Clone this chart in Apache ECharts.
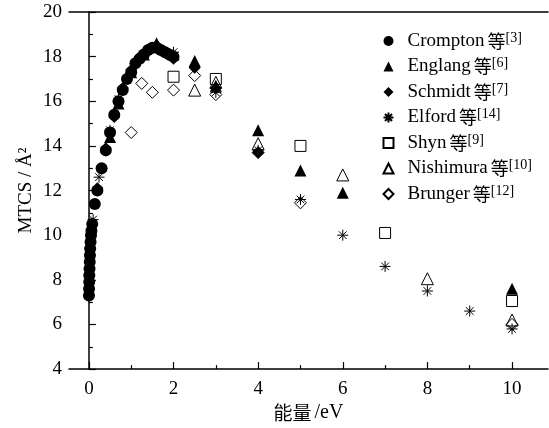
<!DOCTYPE html>
<html><head><meta charset="utf-8">
<script src="https://cdn.jsdelivr.net/npm/echarts@6/dist/echarts.min.js"></script>
<style>html,body{margin:0;padding:0;background:#fff}#c{width:549px;height:428px}</style>
</head><body><div id="c"></div>
<script>
const seriesNames = ['Crompton','Englang','Schmidt','Elford','Shyn','Nishimura','Brunger'];
const refs = ['3','6','7','14','9','10','12'];
const xMajorTicks = [0,2,4,6,8,10];
const xMinorTicks = [1,3,5,7,9];

const crompton = [[0.002,7.3],[0.005,7.6],[0.008,7.9],[0.01,8.2],[0.015,8.5],[0.02,8.8],[0.025,9.1],[0.03,9.4],[0.04,9.7],[0.05,10.0],[0.06,10.2],[0.08,10.5],[0.14,11.4],[0.2,12.0],[0.3,13.0],[0.4,13.8],[0.5,14.6],[0.6,15.4],[0.7,16.0],[0.8,16.5],[0.9,17.0],[1.0,17.3],[1.1,17.7],[1.2,17.9],[1.3,18.1],[1.4,18.3],[1.5,18.4],[1.6,18.4],[1.7,18.3],[1.8,18.2],[1.9,18.1],[2.0,18.0]];
const englang = [[0.5,14.4],[0.7,15.9],[1.0,17.3],[1.3,18.1],[1.6,18.6],[2.0,18.1],[2.5,17.8],[3.0,16.7],[4.0,14.7],[5.0,12.9],[6.0,11.9],[10.0,7.6]];
const schmidt = [[0.2,12.1],[0.4,13.9],[0.6,15.3],[0.8,16.6],[1.0,17.4],[1.2,18.0],[1.4,18.3],[1.6,18.5],[1.8,18.2],[2.0,17.9],[2.5,17.5],[3.0,16.6],[4.0,13.7]];
const elford = [[0.1,10.7],[0.24,12.6],[0.5,14.7],[0.7,16.1],[1.0,17.3],[1.5,18.4],[2.0,18.2],[3.0,16.4],[4.0,13.8],[5.0,11.6],[6.0,10.0],[7.0,8.6],[8.0,7.5],[9.0,6.6],[10.0,5.8]];
const shyn = [[2.0,17.1],[3.0,17.0],[5.0,14.0],[7.0,10.1],[10.0,7.05]];
const nishimura = [[2.5,16.5],[3.0,16.85],[4.0,14.1],[6.0,12.7],[8.0,8.05],[10.0,6.2]];
const brunger = [[1.0,14.6],[1.25,16.8],[1.5,16.4],[2.0,16.5],[2.5,17.15],[3.0,16.3],[4.0,13.7],[5.0,11.45],[10.0,6.0]];

const serif = "'Liberation Serif','Times New Roman',serif";
const cjk = "'Noto Sans CJK SC',sans-serif";
const asterisk = 'path://M5,0L5,10M0,5L10,5M1.5,1.5L8.5,8.5M1.5,8.5L8.5,1.5';

const datasets = [crompton, englang, schmidt, elford, shyn, nishimura, brunger];
const symbols = ['circle','triangle','diamond',asterisk,'rect','triangle','diamond'];
const sizes = [12,12,12,11,11,12,12];
const filled = [true,true,true,false,false,false,false];

const chart = echarts.init(document.getElementById('c'), null, {renderer:'canvas'});
const series = seriesNames.map((n,i)=>({
  name:n, type:'scatter', xAxisIndex:0, yAxisIndex:0,
  data:datasets[i], symbol:symbols[i], symbolSize:sizes[i],
  itemStyle: filled[i] ? {color:'#000', borderColor:'#000', borderWidth:0, opacity:1}
                       : {color:'none', borderColor:'#000', borderWidth:1, opacity:1},
  emphasis:{disabled:true}
}));

chart.setOption({
  animation:false,
  backgroundColor:'#fff',
  grid:{left:69, right:1, top:12, bottom:57},
  legend:{
    orient:'vertical', left:376, top:26, itemWidth:10, itemHeight:10, itemGap:6,
    data:seriesNames,
    formatter: name => {
      const i = seriesNames.indexOf(name);
      return '{a|' + name + '}{b|等}{s|[' + refs[i] + ']}';
    },
    textStyle:{
      color:'#000',
      rich:{
        a:{fontFamily:serif, fontSize:19, lineHeight:20, color:'#000', padding:[0,3,0,9]},
        b:{fontFamily:cjk, fontSize:18, lineHeight:20, color:'#000'},
        s:{fontFamily:serif, fontSize:14, lineHeight:12, color:'#000', verticalAlign:'top'}
      }
    }
  },
  xAxis:[{
    type:'value', min:-0.47, max:10.85, position:'bottom',
    name:'{c|能量}{d|/eV}', nameLocation:'middle', nameGap:29,
    nameTextStyle:{rich:{c:{fontFamily:cjk, fontSize:19, color:'#000'}, d:{fontFamily:serif, fontSize:20, color:'#000', padding:[0,0,0,3]}}},
    axisLine:{show:true, lineStyle:{color:'#000', width:1.5}},
    axisTick:{show:true, inside:true, length:7, customValues:xMajorTicks, lineStyle:{color:'#000', width:1.2}},
    axisLabel:{show:true, customValues:xMajorTicks, margin:10, fontFamily:serif, fontSize:19, color:'#000'},
    splitLine:{show:false}
  },{
    type:'value', min:-0.47, max:10.85, position:'bottom',
    axisLine:{show:false},
    axisTick:{show:true, inside:true, length:4, customValues:xMinorTicks, lineStyle:{color:'#000', width:1.2}},
    axisLabel:{show:false, customValues:xMinorTicks},
    splitLine:{show:false}
  },{
    type:'value', min:-0.47, max:10.85, position:'top',
    axisLine:{show:true, lineStyle:{color:'#000', width:1.5}},
    axisTick:{show:false}, axisLabel:{show:false}, splitLine:{show:false}
  }],
  yAxis:{
    type:'value', min:4, max:20, interval:2,
    name:'MTCS / Å²', nameLocation:'middle', nameGap:33, nameRotate:90, nameMoveOverlap:false,
    nameTextStyle:{fontFamily:serif, fontSize:19, color:'#000'},
    axisLine:{show:true, lineStyle:{color:'#000', width:1.5}},
    axisTick:{show:true, inside:true, length:7, lineStyle:{color:'#000', width:1.2}},
    minorTick:{show:true, splitNumber:2, length:4, lineStyle:{color:'#000', width:1.2}},
    axisLabel:{margin:7, fontFamily:serif, fontSize:19, color:'#000'},
    splitLine:{show:false}
  },
  series: series
});
</script></body></html>
